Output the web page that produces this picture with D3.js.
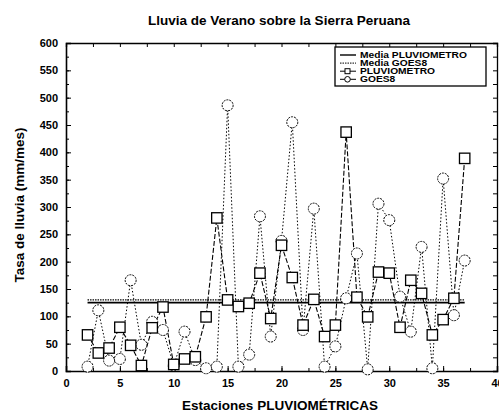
<!DOCTYPE html>
<html>
<head>
<meta charset="utf-8">
<script src="https://cdn.jsdelivr.net/npm/d3@7"></script>
<style>
body { margin: 0; background: #fff; }
text { font-family: "Liberation Sans", Arial, sans-serif; font-weight: bold; fill: #000; }
</style>
</head>
<body>
<div id="chart"></div>
<script>
// estaciones y valores
var estaciones = [2,3,4,5,6,7,8,9,10,11,12,13,14,15,16,17,18,19,20,21,22,23,24,25,26,27,28,29,30,31,32,33,34,35,36,37];
var pluviometro = [66,33,42,80,47,10,79,117,12,22,26,99,280,130,118,124,179,96,230,171,84,131,63,84,437,135,99,181,179,80,166,142,66,94,133,389];
var goes8 = [8,111,19,22,166,48,90,75,10,72,20,5,8,486,8,30,283,63,238,455,75,297,8,45,133,215,3,306,276,136,72,227,5,352,102,202];
var mediaPluviometro = 125;
var mediaGoes8 = 130;
var xTicks = [0,5,10,15,20,25,30,35,40];
var yTicks = [0,50,100,150,200,250,300,350,400,450,500,550,600];
var leyenda = ["Media PLUVIOMETRO", "Media GOES8", "PLUVIOMETRO", "GOES8"];

var width = 499, height = 413;
var margin = {top: 43, right: 2, bottom: 42, left: 66};

var svg = d3.select("#chart").append("svg")
    .attr("width", width)
    .attr("height", height);

var x = d3.scaleLinear().domain([0, 40]).range([margin.left, width - margin.right]);
var y = d3.scaleLinear().domain([0, 600]).range([height - margin.bottom, margin.top]);

var pts = estaciones.map(function (e, i) { return {e: e, p: pluviometro[i], g: goes8[i]}; });

// ejes con ticks hacia adentro
var xMinor = d3.range(0, 40.1, 2.5);
var yMinor = d3.range(0, 601, 25);

svg.append("g")
    .attr("transform", "translate(0," + y(0) + ")")
    .call(d3.axisBottom(x).tickValues(xTicks).tickSize(-5).tickPadding(8).tickFormat(d3.format("d")))
    .call(function (g) { g.select(".domain").attr("stroke-width", 1.6); g.selectAll("text").attr("font-size", 11); });
svg.append("g")
    .attr("transform", "translate(0," + y(0) + ")")
    .call(d3.axisBottom(x).tickValues(xMinor).tickSize(-3).tickFormat(""))
    .call(function (g) { g.select(".domain").remove(); });

svg.append("g")
    .attr("transform", "translate(0," + y(600) + ")")
    .call(d3.axisTop(x).tickValues(xMinor).tickSize(-4).tickFormat(""))
    .call(function (g) { g.select(".domain").attr("stroke-width", 1.3); });

svg.append("g")
    .attr("transform", "translate(" + x(0) + ",0)")
    .call(d3.axisLeft(y).tickValues(yTicks).tickSize(-5).tickPadding(8))
    .call(function (g) { g.select(".domain").attr("stroke-width", 1.6); g.selectAll("text").attr("font-size", 11); });
svg.append("g")
    .attr("transform", "translate(" + x(0) + ",0)")
    .call(d3.axisLeft(y).tickValues(yMinor).tickSize(-3).tickFormat(""))
    .call(function (g) { g.select(".domain").remove(); });

svg.append("g")
    .attr("transform", "translate(" + x(40) + ",0)")
    .call(d3.axisRight(y).tickValues(yMinor).tickSize(-4).tickFormat(""))
    .call(function (g) { g.select(".domain").attr("stroke-width", 1.3); });

// lineas de media
svg.append("line")
    .attr("x1", x(2)).attr("x2", x(37))
    .attr("y1", y(mediaGoes8)).attr("y2", y(mediaGoes8))
    .attr("stroke", "#000").attr("stroke-width", 1.2).attr("stroke-dasharray", "1.5,1");
svg.append("line")
    .attr("x1", x(2)).attr("x2", x(37))
    .attr("y1", y(mediaPluviometro)).attr("y2", y(mediaPluviometro))
    .attr("stroke", "#000").attr("stroke-width", 1.6);

// series
var lineP = d3.line().x(function (d) { return x(d.e); }).y(function (d) { return y(d.p); });
var lineG = d3.line().x(function (d) { return x(d.e); }).y(function (d) { return y(d.g); });

svg.append("path").datum(pts).attr("d", lineP)
    .attr("fill", "none").attr("stroke", "#000").attr("stroke-width", 1.1).attr("stroke-dasharray", "5,2");
svg.append("path").datum(pts).attr("d", lineG)
    .attr("fill", "none").attr("stroke", "#000").attr("stroke-width", 1).attr("stroke-dasharray", "1.5,2");

svg.selectAll(".cg").data(pts).enter().append("circle")
    .attr("cx", function (d) { return x(d.e); })
    .attr("cy", function (d) { return y(d.g); })
    .attr("r", 5.5)
    .attr("fill", "#fff").attr("stroke", "#000").attr("stroke-width", 1).attr("stroke-dasharray", "2,1");

svg.selectAll(".sp").data(pts).enter().append("rect")
    .attr("x", function (d) { return x(d.e) - 5.2; })
    .attr("y", function (d) { return y(d.p) - 5.2; })
    .attr("width", 10.4).attr("height", 10.4)
    .attr("fill", "#fff").attr("stroke", "#000").attr("stroke-width", 1.3);

// leyenda
var lg = svg.append("g").attr("transform", "translate(335,47)");
lg.append("rect").attr("width", 151).attr("height", 39)
    .attr("fill", "#fff").attr("stroke", "#000").attr("stroke-width", 1.3);
var item = lg.selectAll(".it").data(leyenda).enter().append("g")
    .attr("transform", function (d, i) { return "translate(0," + (8 + i * 8.1) + ")"; });
item.append("line").attr("x1", 5).attr("x2", 21).attr("y1", 0).attr("y2", 0)
    .attr("stroke", "#000")
    .attr("stroke-width", function (d, i) { return i == 0 ? 1.4 : 1; })
    .attr("stroke-dasharray", function (d, i) { return i == 1 ? "1.5,1" : null; });
item.filter(function (d, i) { return i == 2; }).append("rect")
    .attr("x", 10).attr("y", -2.5).attr("width", 5).attr("height", 5)
    .attr("fill", "#fff").attr("stroke", "#000");
item.filter(function (d, i) { return i == 3; }).append("circle")
    .attr("cx", 12.5).attr("cy", 0).attr("r", 2.8)
    .attr("fill", "#fff").attr("stroke", "#000");
// texto angosto en alto, ensanchado para ocupar el ancho del original
item.append("text")
    .attr("transform", "translate(25,0) scale(1.25,1)")
    .attr("dy", "0.35em")
    .attr("font-size", 8.2).text(function (d) { return d; });

// titulos
svg.append("text").attr("x", 279).attr("y", 20).attr("dy", "0.35em")
    .attr("text-anchor", "middle").attr("font-size", 13.5)
    .text("Lluvia de Verano sobre la Sierra Peruana");
svg.append("text").attr("x", 280).attr("y", 405).attr("dy", "0.35em")
    .attr("text-anchor", "middle").attr("font-size", 13.5)
    .text("Estaciones PLUVIOMÉTRICAS");
svg.append("text").attr("transform", "translate(19,205) rotate(-90)")
    .attr("dy", "0.35em").attr("text-anchor", "middle").attr("font-size", 13.5)
    .text("Tasa de lluvia (mm/mes)");
</script>
</body>
</html>
